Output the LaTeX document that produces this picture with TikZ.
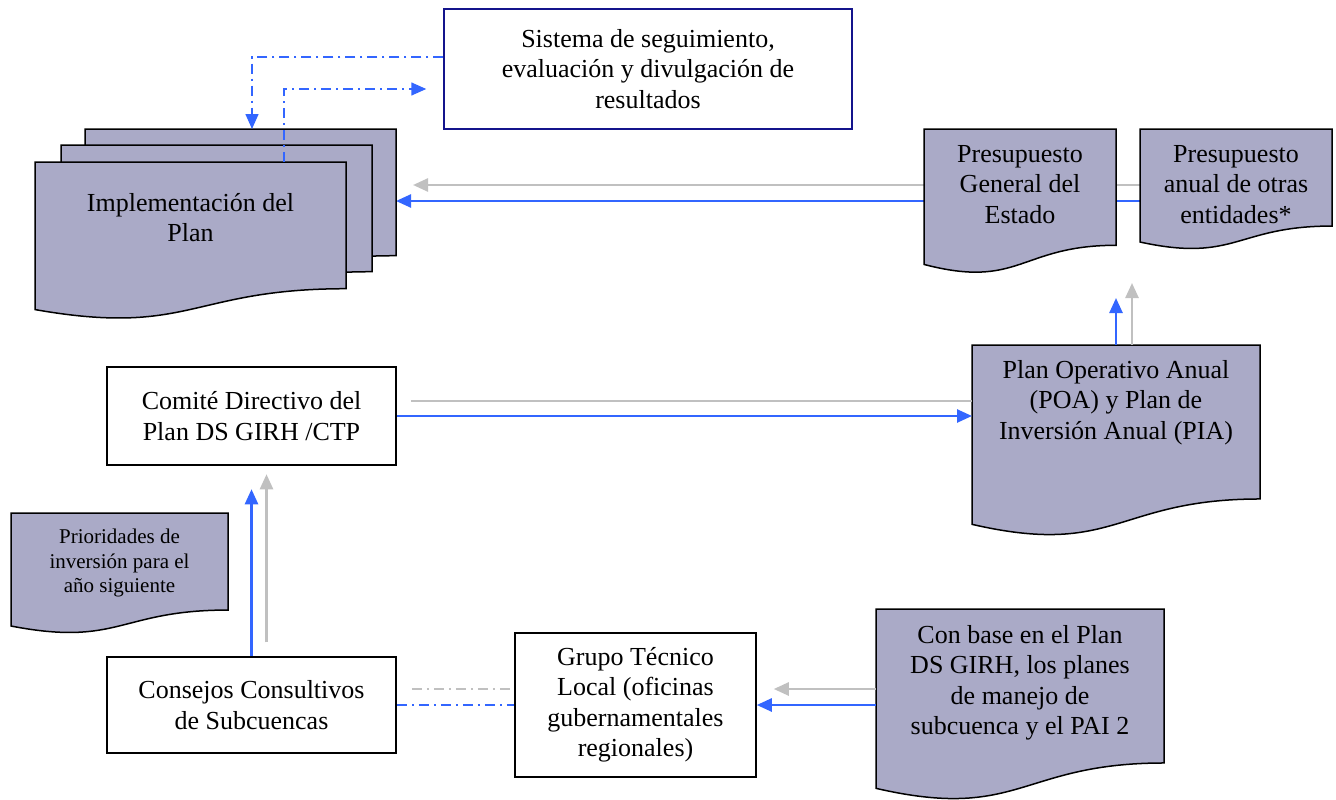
\documentclass[tikz,border=0pt]{standalone}
\usepackage{fontspec}
\setmainfont{Liberation Serif}
\usetikzlibrary{positioning,calc,arrows.meta}

\definecolor{docgray}{RGB}{170,170,199}
\definecolor{flowblue}{RGB}{51,102,255}
\definecolor{backgray}{RGB}{192,192,192}
\definecolor{navyline}{RGB}{20,20,140}

\tikzset{
  box/.style 2 args={draw=black,line width=1.5,minimum width=#1,minimum height=#2,
    inner sep=0,align=center},
  docbox/.style 2 args={draw=none,anchor=north west,minimum width=#1,minimum height=#2,
    inner sep=0,outer sep=0},
  doctext/.style={inner sep=0,align=center},
  docfill/.style={fill=docgray,draw=black,line width=1.5},
  bluearrow/.style={flowblue,line width=2.5,-{Triangle[length=15pt,width=13pt]}},
  greyarrow/.style={backgray,line width=2.5,-{Triangle[length=15pt,width=13pt]}},
  greyline/.style={backgray,line width=2.5},
  dashflow/.style={flowblue,line width=1.5,dash pattern=on 10pt off 5pt on 2pt off 5pt,
    -{Triangle[length=15pt,width=13pt]}},
  bluedash/.style={flowblue,line width=1.5,dash pattern=on 10pt off 5pt on 2pt off 5pt},
  greydash/.style={backgray,line width=1.5,dash pattern=on 10pt off 5pt on 2pt off 5pt}
}

\begin{document}
\begin{tikzpicture}
  [x=1pt,y=-1pt,every node/.style={font=\fontsize{26}{30.5}\selectfont}]

  \useasboundingbox (0,0) rectangle (1336,800);

  % rectangles
  \node[box={408}{120},draw=navyline] (sis) at (648,69) {Sistema de seguimiento,\\evaluación y divulgación de\\resultados};
  \node[box={289}{98}] (com) at (251.5,416) {Comité Directivo del\\Plan DS GIRH /CTP};
  \node[box={289}{96}] (con) at (251.5,705) {Consejos Consultivos\\de Subcuencas};
  \node[box={241}{144}] (gru) at (635.5,705) {Grupo Técnico\\Local (oficinas\\gubernamentales\\regionales)};

  % document shapes
  \node[docbox={311}{158}] (imp3) at (85,129) {};
  \node[docbox={311}{158}] (imp2) at (61,145) {};
  \node[docbox={311}{158}] (imp1) at (35,162) {};
  \node[docbox={192}{145}] (pge) at (924,129) {};
  \node[docbox={192}{121}] (pae) at (1140,129) {};
  \node[docbox={288}{192}] (poa) at (972,345) {};
  \node[docbox={217}{121}] (pri) at (11,513) {};
  \node[docbox={288}{192}] (cba) at (876,609) {};

  % budget lines run behind the first budget sheet
  \draw[greyarrow] ($(pae.north west)+(0,56)$) coordinate (g1) -- ($(g1 -| imp3.east)+(17,0)$);
  \draw[bluearrow] ($(pae.north west)+(0,72)$) coordinate (b1) -- (b1 -| imp3.east);

  \foreach \d in {imp3,imp2,imp1,pge,pae,poa,pri,cba}
    \filldraw[docfill] (\d.north west) -- (\d.north east)
      -- ($(\d.north east)!0.802!(\d.south east)$)
      .. controls ($(\d.north)!0.802!(\d.south)$) and ($(\d.north)!1.1075!(\d.south)$)
      .. ($(\d.north west)!0.934!(\d.south west)$) -- cycle;

  \node[doctext,below=31pt of imp1.north] (t-imp) {Implementación del\\Plan};
  \node[doctext,below=16pt of pge.north] (t-pge) {Presupuesto\\General del\\Estado};
  \node[doctext,below=16pt of pae.north] (t-pae) {Presupuesto\\anual de otras\\entidades*};
  \node[doctext,below=15pt of poa.north] (t-poa) {Plan Operativo Anual\\(POA) y Plan de\\Inversión Anual (PIA)};
  \node[doctext,below=16pt of pri.north,font=\fontsize{21}{24.5}\selectfont] (t-pri) {Prioridades de\\inversión para el\\año siguiente};
  \node[doctext,below=16pt of cba.north] (t-cba) {Con base en el Plan\\DS GIRH, los planes\\de manejo de\\subcuenca y el PAI 2};

  % follow-up loop
  \coordinate (sis-in) at ($(sis.west)+(-17,20)$);
  \draw[dashflow] ($(sis.north west)!0.4!(sis.south west)$) -| ($(imp3.north west)+(167,0)$);
  \draw[dashflow] ($(imp1.north west)+(249,0)$) |- (sis-in);

  % planning flow
  \draw[bluearrow] (poa.north) -- ++(0,-47);
  \draw[greyarrow] ($(poa.north)+(16,0)$) -- ++(0,-62);
  \draw[greyline] ($(com.east)+(14,-15)$) coordinate (g2) -- (g2 -| poa.west);
  \draw[bluearrow] (com.east) -- (com.east -| poa.west);
  \draw[bluearrow] (con.north) -- ++(0,-167);
  \draw[greyarrow] ($(con.north)+(15,-14)$) -- ++(0,-168);
  \draw[greydash] ($(con.east)+(15,-16)$) coordinate (g3) -- (g3 -| gru.west);
  \draw[bluedash] (con.east) -- (con.east -| gru.west);
  \draw[greyarrow] ($(cba.west)+(0,-16)$) coordinate (g4) -- ($(g4 -| gru.east)+(17,0)$);
  \draw[bluearrow] (cba.west) -- (cba.west -| gru.east);
\end{tikzpicture}
\end{document}
